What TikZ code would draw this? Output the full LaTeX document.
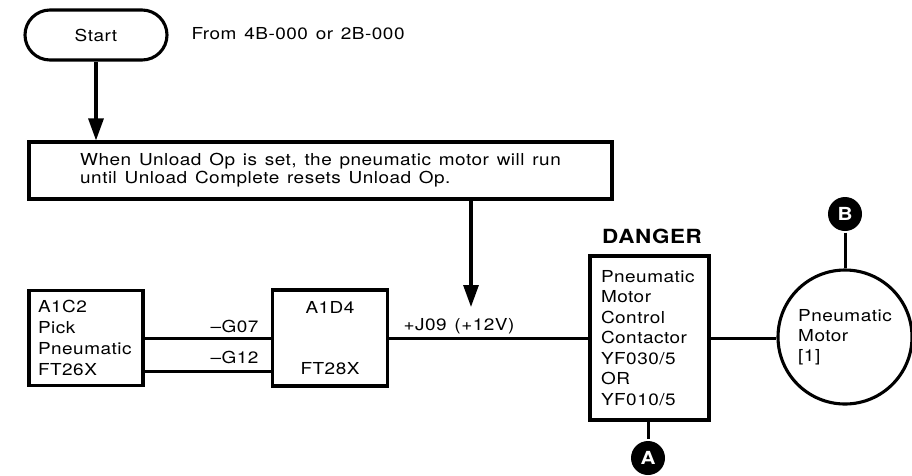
\documentclass[tikz,border=0pt]{standalone}
\usepackage{fontspec}
\setmainfont[FakeStretch=1.15,LetterSpace=3,WordSpace=1.35]{TeX Gyre Heros}
\usetikzlibrary{arrows.meta}

\begin{document}
\begin{tikzpicture}[x=1pt,y=-1pt,line width=3.1pt,
  box/.style={draw,rectangle,inner sep=0pt,font=\fontsize{16.5}{20.5}\selectfont},
  wire/.style={line width=3pt},
  lbl/.style={font=\fontsize{16.5}{20}\selectfont,inner sep=0pt},
  tag/.style={circle,fill=black,text=white,minimum size=34,inner sep=0pt,font=\fontsize{18}{18}\selectfont\bfseries},
  flow/.style={-{Triangle[length=22pt,width=15pt]}}]
\useasboundingbox (0,0) rectangle (912,475);
% flow part
\node[box,rounded corners=25,minimum width=142,minimum height=50] (start) at (96,35) {Start};
\node[lbl,anchor=base west] (from) at (190,39) {From 4B-000 or 2B-000};
\node[box,minimum width=583,minimum height=57,align=left,font=\fontsize{16.5}{18}\selectfont] (note) at (320.5,170.5) {When Unload Op is set, the pneumatic motor will run\\until Unload Complete resets Unload Op.};
\draw[flow] (start) -- (start |- note.north);
\coordinate (tip) at (471,307);
\draw[flow] (note.south -| tip) -- (tip);
% circuit part
\node[box,text width=96,inner xsep=9,minimum height=95,align=left,font=\fontsize{16.5}{21}\selectfont] (a1c2) at (86,338) {A1C2\\Pick\\Pneumatic\\FT26X};
\node[box,minimum width=115,minimum height=96,align=center] (a1d4) at (330,338) {A1D4\\[40pt]FT28X};
\node[box,text width=97,inner xsep=11,minimum height=164,align=left] (danger) at (649.5,338) {Pneumatic\\Motor\\Control\\Contactor\\YF030/5\\OR\\YF010/5};
\node[lbl,anchor=base,font=\fontsize{19.5}{20}\selectfont\bfseries] (warn) at (652,243) {DANGER};
\node[circle,draw,minimum size=134,inner sep=0pt,align=left,font=\fontsize{16.5}{20}\selectfont] (motor) at (845,337) {Pneumatic\\Motor\\{[1]}};
\node[tag] (tagA) at (648,458) {A};
\node[tag] (tagB) at (845,214) {B};
\draw[wire] (a1c2.east) -- node[lbl,pos=1,anchor=base east,xshift=-11,yshift=6]{\textendash G07} (a1d4.west);
\draw[wire] ([yshift=-33]a1c2.east) -- node[lbl,pos=1,anchor=base east,xshift=-11,yshift=8]{\textendash G12} ([yshift=-33]a1d4.west);
\draw[wire] (a1d4.east) -- node[lbl,pos=0,anchor=base west,xshift=13,yshift=8]{+J09 (+12V)} (danger.west);
\draw[wire] (danger.east) -- (danger.east -| motor.west);
\draw[wire] (danger.south -| tagA) -- (tagA.north);
\draw[wire] (tagB) -- (motor);
\end{tikzpicture}
\end{document}
